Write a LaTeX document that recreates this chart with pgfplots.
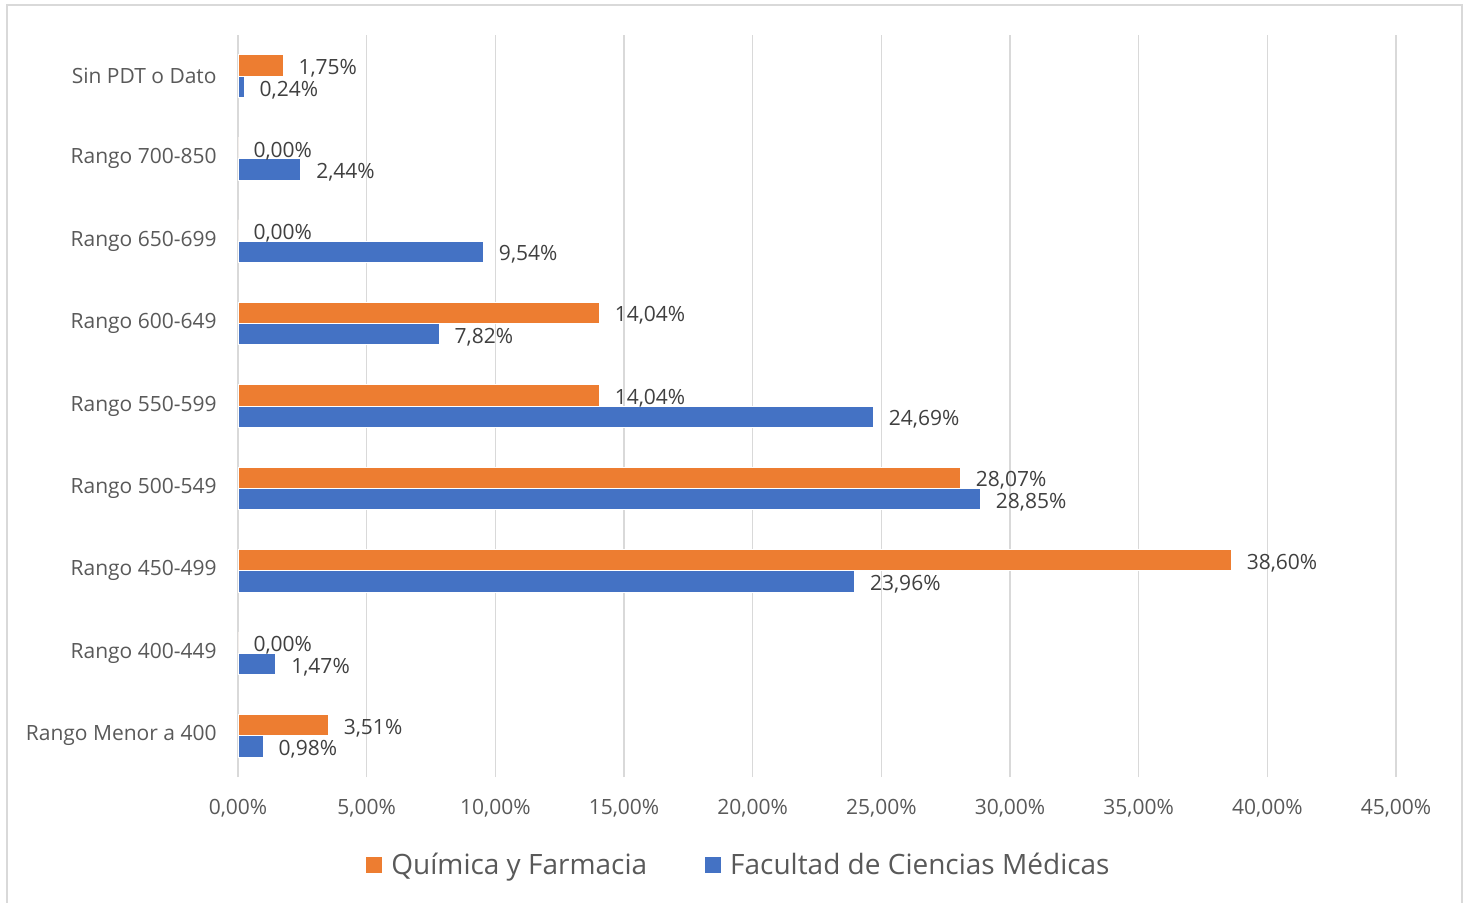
\documentclass[border=0pt]{standalone}
\usepackage{pgfplots}
\pgfplotsset{compat=1.18}
\usepackage{fontspec}
\setmainfont{Open Sans}
\definecolor{qorange}{HTML}{ED7D31}
\definecolor{fblue}{HTML}{4472C4}
\definecolor{txtgray}{HTML}{595959}
\definecolor{lblgray}{HTML}{404040}
\definecolor{gridgray}{HTML}{D9D9D9}
\begin{document}
\begin{tikzpicture}[x=0.5pt,y=0.5pt]
\useasboundingbox (0,0) rectangle (1468,-903);
\draw[gridgray, line width=1pt] (7,-905) -- (7,-5) -- (1462,-5) -- (1462,-905);
\begin{axis}[
  at={(119pt,-388.5pt)}, anchor=south west,
  scale only axis, width=579pt, height=371pt,
  xbar, bar width=0.26,
  xmin=0, xmax=45, ymin=-0.5, ymax=8.5,
  xtick={0,5,...,45},
  xticklabels={{0,00\%},{5,00\%},{10,00\%},{15,00\%},{20,00\%},{25,00\%},{30,00\%},{35,00\%},{40,00\%},{45,00\%}},
  ytick={0,...,8},
  yticklabels={Rango Menor a 400,Rango 400-449,Rango 450-499,Rango 500-549,Rango 550-599,Rango 600-649,Rango 650-699,Rango 700-850,Sin PDT o Dato},
  xmajorgrids, grid style={gridgray, line width=0.75pt},
  axis line style={draw=none}, major tick length=0pt,
  tick label style={font=\fontsize{10.5}{12}\selectfont, text=txtgray},
  xticklabel style={inner sep=0pt, anchor=north, yshift=-11pt},
  yticklabel style={inner sep=0pt, anchor=east, xshift=-10.5pt},
  /pgf/number format/assume math mode=true,
  point meta=x,
  nodes near coords={\pgfmathprintnumber[fixed,fixed zerofill,precision=2,use comma]{\pgfplotspointmeta}\%},
  nodes near coords style={anchor=west, inner sep=0pt, xshift=7.5pt, yshift=-1.4pt, font=\fontsize{10.5}{12}\selectfont, text=lblgray},
  legend columns=2,
  legend style={at={(0.4335,-0.1186)}, anchor=center, draw=none, fill=none,
    font=\fontsize{14}{16}\selectfont, text=txtgray,
    /tikz/every odd column/.append style={column sep=2.5pt},
    /tikz/every even column/.append style={column sep=27pt}},
]
\addplot[fill=qorange, draw=white, line width=0.5pt, bar shift=0.13,
  legend image code/.code={\fill[qorange] (0pt,-3.75pt) rectangle (7.5pt,3.75pt);}]
  coordinates {(3.51,0) (0,1) (38.60,2) (28.07,3) (14.04,4) (14.04,5) (0,6) (0,7) (1.75,8)};
\addlegendentry{Química y Farmacia}
\addplot[fill=fblue, draw=white, line width=0.5pt, bar shift=-0.13,
  legend image code/.code={\fill[fblue] (0pt,-3.75pt) rectangle (7.5pt,3.75pt);}]
  coordinates {(0.98,0) (1.47,1) (23.96,2) (28.85,3) (24.69,4) (7.82,5) (9.54,6) (2.44,7) (0.24,8)};
\addlegendentry{Facultad de Ciencias Médicas}
\end{axis}
\end{tikzpicture}
\end{document}
